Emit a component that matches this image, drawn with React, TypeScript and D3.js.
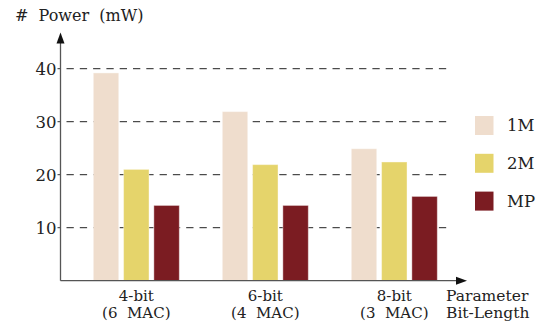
import React from "react";
import * as d3 from "d3";

const categories = ["4-bit|(6  MAC)", "6-bit|(4  MAC)", "8-bit|(3  MAC)"];
const seriesNames = ["1M", "2M", "MP"];
const values1M = [39.2, 31.9, 24.9];
const values2M = [21.0, 21.9, 22.4];
const valuesMP = [14.2, 14.2, 15.9];
const yTicks = [10, 20, 30, 40];
const colors = ["#EFDDCD", "#E5D46B", "#7B1C22"];

const W = 545, H = 330;
const FONT = "'DejaVu Serif', serif";

export default function App() {
  const series = [values1M, values2M, valuesMP];
  const x0 = d3.scaleBand<string>().domain(categories).range([71.8, 458.8]).padding(0);
  const x1 = d3.scaleBand<string>().domain(seriesNames).range([-43, 43]).paddingInner(0.16).paddingOuter(0);
  const y = d3.scaleLinear().domain([0, 40]).range([280.7, 68.7]);
  const axisX = 60.5;
  const base = y(0);
  const gridEnd = 452;
  const xEnd = 467;
  const yTop = 32.5;

  return (
    <svg width={W} height={H} style={{ position: "absolute", left: 0, top: 0 }} fontFamily={FONT}>
      <rect width={W} height={H} fill="#fff" />
      {/* grid */}
      {yTicks.map((t) => (
        <g key={t}>
          <line x1={axisX} x2={gridEnd} y1={y(t)} y2={y(t)} stroke="#222" strokeWidth={1} strokeDasharray="7.3 6" strokeDashoffset={-6} />
          <line x1={axisX - 3} x2={axisX} y1={y(t)} y2={y(t)} stroke="#333" strokeWidth={1} />
          <text x={axisX - 4} y={y(t)} dy="0.36em" textAnchor="end" fontSize={16.5} fill="#222">{t}</text>
        </g>
      ))}
      {/* bars */}
      {categories.map((c, i) => (
        <g key={c} transform={`translate(${x0(c)! + x0.bandwidth() / 2},0)`}>
          {seriesNames.map((s, j) => (
            <rect key={s} x={x1(s)!} y={y(series[j][i])} width={x1.bandwidth()} height={base - y(series[j][i])}
              fill={colors[j]} stroke="#fff" strokeOpacity={0.4} strokeWidth={1} />
          ))}
          {c.split("|").map((line, k) => (
            <text key={k} x={0} y={300.5 + k * 17.5} textAnchor="middle" fontSize={15} fill="#222"
              xmlSpace="preserve" style={{ whiteSpace: "pre" }}>{line}</text>
          ))}
        </g>
      ))}
      {/* axes */}
      <line x1={axisX} x2={axisX} y1={base} y2={yTop + 8} stroke="#555" strokeWidth={1.3} />
      <path d={`M${axisX},${yTop} L${axisX - 4},${yTop + 11} L${axisX + 4},${yTop + 11} Z`} fill="#111" />
      <line x1={axisX} x2={xEnd - 8} y1={base} y2={base} stroke="#555" strokeWidth={1.3} />
      <path d={`M${xEnd},${base} L${xEnd - 11},${base - 4} L${xEnd - 11},${base + 4} Z`} fill="#111" />
      {/* titles */}
      <text x={15} y={21} fontSize={16} fill="#222" xmlSpace="preserve" style={{ whiteSpace: "pre" }}>#  Power  (mW)</text>
      <text x={446} y={300.5} fontSize={15.5} fill="#222">Parameter</text>
      <text x={446} y={318} fontSize={15.5} fill="#222">Bit-Length</text>
      {/* legend */}
      {seriesNames.map((s, j) => (
        <g key={s} transform={`translate(475,${116 + j * 37.8})`}>
          <rect width={18.5} height={19} fill={colors[j]} />
          <text x={32} y={9.5} dy="0.36em" fontSize={16.5} fill="#222">{s}</text>
        </g>
      ))}
    </svg>
  );
}
